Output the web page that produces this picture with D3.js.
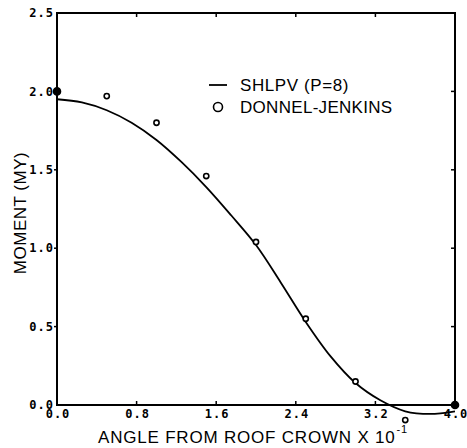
<!DOCTYPE html>
<html>
<head>
<meta charset="utf-8">
<script src="https://cdn.jsdelivr.net/npm/d3@7"></script>
<style>
  body { margin: 0; background: #fff; }
  svg { display: block; }
</style>
</head>
<body>
<div id="chart"></div>
<script>
// SHLPV (P=8) curve
const curveX = [0.0, 0.25, 0.5, 0.75, 1.0, 1.25, 1.5, 1.75, 2.0, 2.25, 2.5, 2.75, 3.0, 3.25, 3.5, 3.75, 4.0];
const curveY = [1.95, 1.93, 1.88, 1.80, 1.69, 1.55, 1.39, 1.21, 1.02, 0.78, 0.53, 0.31, 0.14, 0.03, -0.04, -0.057, -0.04];

// Donnel-Jenkins points
const dotX = [0.0, 0.5, 1.0, 1.5, 2.0, 2.5, 3.0, 3.5, 4.0];
const dotY = [2.0, 1.97, 1.80, 1.46, 1.04, 0.55, 0.15, -0.096, 0.0];

const xTicks = [0.0, 0.8, 1.6, 2.4, 3.2, 4.0];
const yTicks = [0.0, 0.5, 1.0, 1.5, 2.0, 2.5];

const width = 467, height = 448;
const margin = { top: 13, right: 12, bottom: 43, left: 57 };

const svg = d3.select("#chart").append("svg")
    .attr("width", width)
    .attr("height", height);

const x = d3.scaleLinear().domain([0, 4]).range([margin.left, width - margin.right]);
const y = d3.scaleLinear().domain([0, 2.5]).range([height - margin.bottom, margin.top]);

const tickFont = "'DejaVu Sans Mono', monospace";
const labelFont = "'Liberation Sans', Arial, sans-serif";

// frame
svg.append("rect")
    .attr("x", x(0)).attr("y", y(2.5))
    .attr("width", x(4) - x(0)).attr("height", y(0) - y(2.5))
    .attr("fill", "none").attr("stroke", "#000").attr("stroke-width", 2);

// ticks on all four sides
const g = svg.append("g").attr("stroke", "#000").attr("stroke-width", 1.5);
xTicks.slice(1, -1).forEach(t => {
    g.append("line").attr("x1", x(t)).attr("x2", x(t)).attr("y1", y(0)).attr("y2", y(0) - 4);
    g.append("line").attr("x1", x(t)).attr("x2", x(t)).attr("y1", y(2.5)).attr("y2", y(2.5) + 4);
});
yTicks.slice(1, -1).forEach(t => {
    g.append("line").attr("x1", x(0)).attr("x2", x(0) - 3).attr("y1", y(t)).attr("y2", y(t));
    g.append("line").attr("x1", x(4)).attr("x2", x(4) - 4).attr("y1", y(t)).attr("y2", y(t));
});

// tick labels
svg.append("g").selectAll("text").data(yTicks).join("text")
    .attr("x", x(0) - 3)
    .attr("y", d => y(d))
    .attr("dy", "0.35em")
    .attr("text-anchor", "end")
    .attr("font-family", tickFont)
    .attr("font-weight", "bold")
    .attr("font-size", 12)
    .attr("letter-spacing", 1)
    .text(d => d.toFixed(1));

svg.append("g").selectAll("text").data(xTicks).join("text")
    .attr("x", d => x(d) + 1)
    .attr("y", y(0) + 13)
    .attr("text-anchor", "middle")
    .attr("font-family", tickFont)
    .attr("font-weight", "bold")
    .attr("font-size", 12)
    .attr("letter-spacing", 1)
    .text(d => d.toFixed(1));

// axis titles
const xt = svg.append("text")
    .attr("x", 98).attr("y", 443)
    .attr("font-family", labelFont)
    .attr("font-size", 17)
    .attr("letter-spacing", 0.8)
    .text("ANGLE FROM ROOF CROWN X 10");
xt.append("tspan").attr("font-size", 11).attr("dy", -10).attr("dx", 1).text("-1");

svg.append("text")
    .attr("transform", "translate(26,213) rotate(-90)")
    .attr("text-anchor", "middle")
    .attr("font-family", labelFont)
    .attr("font-size", 17)
    .attr("letter-spacing", 0.5)
    .text("MOMENT (MY)");

// curve
const pts = curveX.map((v, i) => [v, curveY[i]]);
svg.append("path")
    .datum(pts)
    .attr("fill", "none")
    .attr("stroke", "#000")
    .attr("stroke-width", 1.8)
    .attr("d", d3.line().x(d => x(d[0])).y(d => y(d[1])).curve(d3.curveCatmullRom.alpha(0.5)));

// points
const dots = dotX.map((v, i) => [v, dotY[i]]);
svg.append("g").selectAll("circle").data(dots).join("circle")
    .attr("cx", d => x(d[0]))
    .attr("cy", d => y(d[1]))
    .attr("r", d => (d[0] === 0 || d[0] === 4) ? 3.5 : 2.6)
    .attr("fill", d => (d[0] === 0 || d[0] === 4) ? "#000" : "#fff")
    .attr("stroke", "#000")
    .attr("stroke-width", 1.6);

// legend
const lg = svg.append("g");
lg.append("line").attr("x1", 209).attr("x2", 227).attr("y1", 85).attr("y2", 85)
    .attr("stroke", "#000").attr("stroke-width", 1.8);
lg.append("circle").attr("cx", 218).attr("cy", 107).attr("r", 4.5)
    .attr("fill", "none").attr("stroke", "#000").attr("stroke-width", 1.6);
lg.append("text").attr("x", 240).attr("y", 91)
    .attr("font-family", labelFont).attr("font-size", 17)
    .attr("letter-spacing", 0.6)
    .text("SHLPV (P=8)");
lg.append("text").attr("x", 240).attr("y", 113)
    .attr("font-family", labelFont).attr("font-size", 17)
    .attr("letter-spacing", 0.3)
    .text("DONNEL-JENKINS");
</script>
</body>
</html>
